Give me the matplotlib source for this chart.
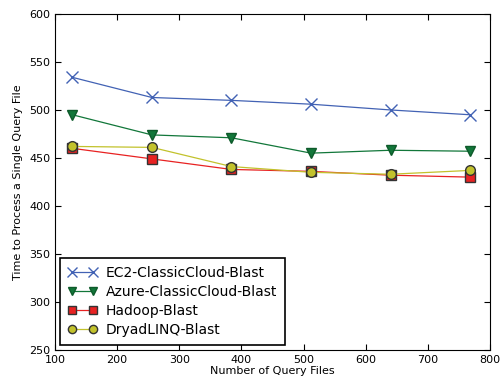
import matplotlib
matplotlib.use("Agg")
import matplotlib.pyplot as plt

query_files = [128, 256, 384, 512, 640, 768]
ec2 = [534, 513, 510, 506, 500, 495]
azure = [495, 474, 471, 455, 458, 457]
hadoop = [460, 449, 438, 436, 432, 430]
dryad = [462, 461, 441, 435, 433, 437]

plt.rcParams['xtick.direction'] = 'in'
plt.rcParams['ytick.direction'] = 'in'

fig = plt.figure(figsize=(5, 3.79), dpi=100)
ax = fig.add_axes([0.11, 0.077, 0.87, 0.886])

ax.plot(query_files, ec2, color='#4262b4', marker='x', markersize=8,
        markeredgewidth=1, linewidth=0.9, label='EC2-ClassicCloud-Blast')
ax.plot(query_files, azure, color='#12773a', marker='v', markersize=7,
        markeredgecolor='#0d5a2a', linewidth=0.9, label='Azure-ClassicCloud-Blast')
ax.plot(query_files, hadoop, color='#e82222', marker='s', markersize=6.5,
        markeredgecolor='#333333', linewidth=0.9, label='Hadoop-Blast')
ax.plot(query_files, dryad, color='#c2c22c', marker='o', markersize=7,
        markeredgecolor='#333333', linewidth=0.9, label='DryadLINQ-Blast')

ax.set_xlim(100, 800)
ax.set_ylim(250, 600)
ax.tick_params(labelsize=8, top=True, right=True, length=4)
ax.set_xlabel('Number of Query Files', fontsize=8, labelpad=1)
ax.set_ylabel('Time to Process a Single Query File', fontsize=8, labelpad=4)

leg = ax.legend(loc='lower left', fontsize=10, fancybox=False, framealpha=1,
                edgecolor='black', borderaxespad=0.35, numpoints=2,
                markerscale=0.85, handlelength=2.1, handletextpad=0.6,
                labelspacing=0.35, borderpad=0.6)
leg.get_frame().set_linewidth(1.2)

plt.savefig('out.png')
